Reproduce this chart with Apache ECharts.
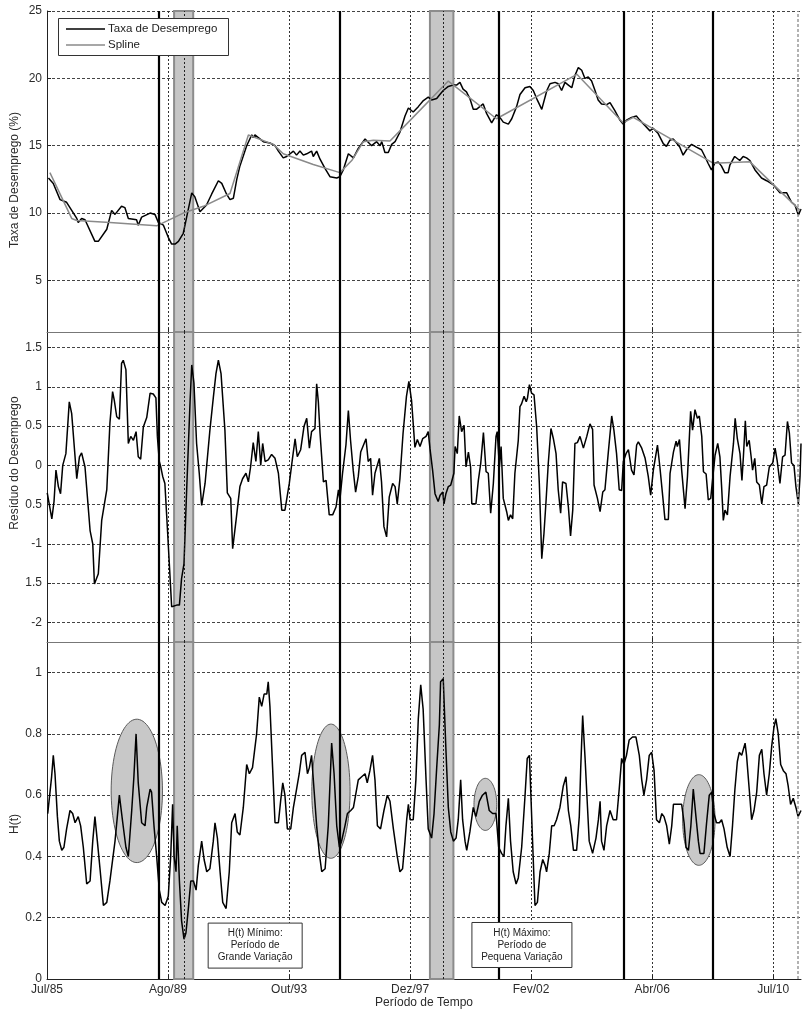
<!DOCTYPE html>
<html>
<head>
<meta charset="utf-8">
<script src="https://cdn.jsdelivr.net/npm/echarts@6/dist/echarts.min.js"></script>
<style>
    html, body { margin: 0; padding: 0; background: #fff; }
    #chart { width: 802px; height: 1012px; }
</style>
</head>
<body>
<div id="chart"></div>
<script>
// eixo do tempo: indice do mes (0 = Jul/85)
const xTickValues = [0, 50, 100, 150, 200, 250, 300];
const xTickLabels = ['Jul/85', 'Ago/89', 'Out/93', 'Dez/97', 'Fev/02', 'Abr/06', 'Jul/10'];
const taxaTicks = [5, 10, 15, 20, 25];
const residuoTicks = [-2, -1.5, -1, -0.5, 0, 0.5, 1, 1.5];
const residuoTickLabels = ['-2', '1.5', '-1', '0.5', '0', '0.5', '1', '1.5'];
const hTicks = [0, 0.2, 0.4, 0.6, 0.8, 1];

// taxa de desemprego (%)
const taxaMeses = [0.6, 2.6, 5.4, 8.1, 8.8, 12.3, 12.9, 14.3, 15.7, 19.8, 21.2, 24.7, 26.7, 28.1, 30.8, 32.2, 33.6, 37.0, 37.7, 39.1,
    42.6, 44.6, 46.0, 48.1, 50.1, 51.5, 52.9, 54.3, 56.3, 57.7, 59.8, 61.1, 63.2, 63.9, 65.9, 68.0, 70.8, 72.2, 74.2, 75.6,
    77.0, 78.4, 79.7, 82.5, 84.6, 85.2, 85.9, 87.3, 88.0, 89.4, 92.1, 94.2, 95.6, 97.6, 99.0, 101.8, 103.1, 104.5, 105.9, 107.3,
    109.3, 110.0, 111.4, 112.8, 114.9, 116.9, 119.7, 121.0, 122.4, 124.5, 126.6, 128.6, 131.4, 134.1, 136.2, 137.6, 138.3, 139.6, 141.0, 142.4,
    143.8, 145.8, 147.9, 149.3, 151.3, 153.4, 155.5, 157.5, 158.9, 161.0, 162.3, 163.7, 165.8, 167.8, 169.2, 170.6, 171.9, 173.3, 174.7, 176.1,
    177.4, 178.8, 180.2, 181.6, 183.7, 185.7, 187.1, 188.5, 190.6, 192.0, 194.0, 195.4, 197.5, 199.5, 200.9, 202.3, 204.4, 206.5, 207.8, 209.9,
    211.2, 212.6, 214.0, 215.4, 216.8, 218.1, 219.5, 220.9, 222.2, 223.6, 225.0, 226.4, 227.7, 229.1, 231.2, 232.6, 234.6, 236.7, 238.0, 239.4,
    241.5, 243.5, 244.9, 247.0, 249.1, 250.4, 252.5, 254.6, 255.9, 257.3, 258.7, 260.1, 261.4, 262.8, 264.2, 266.3, 268.3, 270.4, 271.8, 273.1,
    274.5, 275.9, 277.3, 278.6, 280.0, 281.4, 282.1, 284.1, 286.2, 287.6, 289.0, 290.4, 292.5, 295.2, 297.3, 300.1, 302.8, 305.6, 307.6, 309.0,
    310.4, 311.5];
const taxaValores = [12.6, 12.2, 11.0, 10.8, 10.9, 9.6, 9.3, 9.6, 9.5, 7.9, 7.9, 8.8, 10.2, 9.9, 10.5, 10.4, 9.6, 9.5, 9.1, 9.7,
    10.0, 9.9, 9.3, 9.1, 8.2, 7.7, 7.7, 7.9, 8.5, 9.7, 11.5, 11.2, 10.1, 10.0, 10.6, 11.4, 12.4, 12.2, 11.4, 11.0,
    11.1, 12.5, 13.5, 15.0, 15.8, 15.6, 15.8, 15.6, 15.7, 15.3, 15.2, 15.0, 14.6, 14.1, 14.2, 14.6, 14.3, 14.6, 14.3, 14.4,
    14.6, 14.2, 14.6, 14.0, 13.3, 12.7, 12.6, 12.7, 13.2, 14.4, 14.1, 14.8, 15.5, 15.0, 15.3, 15.0, 15.3, 14.5, 14.5, 15.1,
    15.3, 16.0, 17.2, 17.8, 17.5, 17.9, 18.35, 18.6, 18.4, 18.5, 18.8, 19.1, 19.4, 19.5, 19.5, 19.7, 19.2, 19.0, 18.5, 17.7,
    17.7, 17.9, 18.1, 17.4, 16.7, 17.3, 17.1, 16.75, 16.6, 17.0, 17.9, 18.8, 19.3, 19.4, 19.1, 18.5, 17.7, 19.1, 19.6, 19.7,
    19.6, 19.1, 19.7, 19.5, 19.3, 20.2, 20.8, 20.6, 20.0, 20.1, 19.8, 19.1, 18.4, 18.1, 18.05, 18.2, 17.6, 16.9, 16.6, 16.9,
    17.1, 17.2, 16.9, 16.5, 16.1, 16.3, 15.9, 15.15, 14.95, 15.4, 15.5, 15.2, 14.9, 14.3, 14.7, 15.1, 14.9, 14.7, 14.2, 13.7,
    13.2, 13.7, 13.8, 13.5, 13.0, 13.0, 13.55, 14.2, 13.9, 14.2, 14.1, 13.9, 13.2, 12.6, 12.4, 12.1, 11.5, 11.5, 10.8, 10.6,
    9.85, 10.3];

// spline da taxa
const splineMeses = [1.2, 10.2, 12.3, 26.0, 45.3, 49.4, 56.3, 64.6, 75.6, 83.2, 93.5, 97.6, 110.0, 121.0, 125.9, 130.7, 134.8, 141.7,
    145.8, 165.8, 185.7, 218.9, 238.0, 242.2, 275.2, 290.4, 311.1];
const splineValores = [13.0, 9.6, 9.45, 9.3, 9.05, 9.4, 10.0, 10.5, 11.45, 15.8, 15.1, 14.4, 13.6, 13.0, 13.9, 15.3, 15.4, 15.35,
    16.1, 19.8, 17.0, 20.3, 16.7, 17.1, 13.7, 13.8, 10.2];

// residuo do desemprego
const residuoMeses = [0.1, 2.0, 2.9, 3.7, 4.7, 5.6, 6.5, 7.8, 9.2, 10.2, 12.3, 13.4, 14.3, 15.7, 17.8, 18.9, 19.6, 21.2, 22.6, 24.7,
    26.0, 27.1, 27.8, 28.8, 29.9, 30.8, 31.5, 32.6, 33.6, 34.6, 35.7, 36.8, 37.7, 38.7, 39.8, 41.2, 42.6, 43.9, 45.0, 45.6,
    46.4, 47.0, 47.8, 48.7, 49.7, 51.5, 53.6, 54.7, 55.6, 56.6, 57.7, 59.1, 59.8, 60.7, 61.8, 62.9, 63.9, 65.3, 67.3, 68.7,
    69.8, 70.8, 71.9, 73.5, 74.5, 75.9, 76.7, 78.1, 79.7, 80.8, 82.2, 83.2, 84.1, 85.2, 86.3, 87.3, 88.3, 89.1, 90.1, 91.4,
    92.8, 94.2, 95.6, 97.0, 98.3, 100.1, 101.5, 102.5, 103.4, 104.8, 106.2, 107.3, 108.4, 109.3, 110.7, 111.4, 112.1, 112.8, 114.2, 115.3,
    116.6, 118.0, 119.4, 120.4, 121.0, 122.1, 123.5, 124.5, 125.4, 126.5, 127.5, 128.6, 129.6, 131.8, 132.7, 133.7, 134.5, 135.5, 137.3, 138.2,
    139.2, 140.3, 141.4, 142.8, 143.8, 144.7, 145.8, 147.1, 148.5, 149.5, 150.6, 152.0, 153.0, 154.1, 155.2, 156.6, 157.5, 158.2, 159.3, 160.3,
    161.6, 162.4, 163.5, 164.0, 164.8, 165.8, 166.8, 168.1, 168.6, 169.5, 170.3, 171.3, 172.3, 173.1, 174.1, 175.0, 175.5, 177.2, 178.2, 179.2,
    180.3, 181.4, 182.3, 183.3, 184.4, 185.5, 186.0, 186.9, 187.6, 188.5, 189.9, 190.6, 191.5, 192.4, 193.3, 194.7, 195.4, 196.0, 197.1, 198.0,
    198.5, 199.3, 200.2, 201.2, 202.3, 203.4, 204.4, 205.3, 206.2, 207.1, 208.2, 209.2, 210.3, 211.2, 212.2, 213.0, 214.4, 215.4, 216.3, 217.2,
    218.1, 219.1, 220.2, 221.6, 223.0, 224.3, 225.4, 226.0, 227.4, 228.5, 229.6, 230.5, 231.9, 233.3, 234.2, 235.3, 236.4, 237.4, 238.1, 239.2,
    240.2, 241.5, 242.5, 243.6, 244.3, 245.7, 247.1, 248.4, 249.4, 250.5, 252.2, 253.2, 254.4, 255.3, 256.7, 257.4, 258.8, 259.9, 260.4, 261.3,
    262.2, 263.6, 264.6, 265.9, 266.7, 267.7, 268.7, 269.5, 270.5, 271.2, 272.3, 273.2, 274.2, 275.0, 276.0, 277.1, 278.0, 278.7, 279.4, 280.1,
    281.1, 282.2, 282.9, 283.6, 284.3, 285.2, 286.3, 287.1, 287.7, 288.5, 289.1, 290.1, 290.9, 291.5, 292.4, 293.2, 294.3, 295.3, 296.2, 297.3,
    298.4, 299.8, 300.8, 301.7, 302.8, 303.9, 304.9, 305.9, 306.7, 307.6, 308.6, 309.4, 310.4, 311.1, 311.5];
const residuoValores = [-0.35, -0.68, -0.46, -0.06, -0.27, -0.36, 0.0, 0.15, 0.81, 0.66, -0.17, 0.11, 0.16, -0.02, -0.83, -1.0, -1.51, -1.38, -0.70, -0.31,
    0.54, 0.94, 0.83, 0.62, 0.59, 1.30, 1.34, 1.22, 0.28, 0.37, 0.32, 0.43, 0.11, 0.08, 0.49, 0.61, 0.92, 0.91, 0.86, 0.37,
    0.05, -0.02, -0.14, -0.23, -0.78, -1.80, -1.78, -1.78, -1.44, -1.25, -0.31, 0.81, 1.28, 1.05, 0.28, -0.10, -0.51, -0.23, 0.45, 0.86,
    1.17, 1.34, 1.17, 0.45, -0.35, -0.42, -1.06, -0.70, -0.27, -0.17, -0.10, -0.21, -0.02, 0.29, 0.05, 0.43, 0.0, 0.28, 0.05, 0.07,
    0.14, 0.09, -0.10, -0.57, -0.57, -0.23, 0.11, 0.34, 0.11, 0.20, 0.50, 0.60, 0.22, 0.43, 0.47, 1.04, 0.81, 0.41, -0.21, -0.19,
    -0.63, -0.63, -0.53, -0.31, -0.44, -0.10, 0.26, 0.70, 0.32, -0.06, -0.34, -0.14, 0.17, 0.34, 0.05, 0.09, -0.38, -0.10, 0.09, -0.21,
    -0.78, -0.91, -0.40, -0.23, -0.27, -0.49, -0.17, 0.41, 0.88, 1.07, 0.83, 0.23, 0.33, 0.24, 0.34, 0.37, 0.43, 0.22, -0.06, -0.36,
    -0.46, -0.38, -0.34, -0.49, -0.36, -0.27, -0.25, -0.10, 0.24, 0.15, 0.63, 0.43, 0.51, -0.02, 0.17, -0.02, -0.49, -0.49, -0.19, 0.03,
    0.42, -0.08, -0.10, -0.61, -0.23, 0.37, 0.43, -0.02, 0.24, -0.42, -0.59, -0.70, -0.63, -0.68, -0.10, 0.32, 0.75, 0.78, 0.88, 0.81,
    0.86, 1.03, 0.92, 0.90, 0.49, -0.23, -1.19, -0.87, -0.44, 0.03, 0.47, 0.34, 0.15, -0.31, -0.61, -0.21, -0.23, -0.53, -0.90, -0.57,
    0.28, 0.29, 0.37, 0.22, 0.37, 0.53, 0.46, -0.25, -0.42, -0.59, -0.34, -0.31, 0.17, 0.63, 0.45, 0.15, -0.31, -0.32, 0.05, 0.15,
    0.20, -0.06, -0.12, 0.26, 0.30, 0.22, 0.09, -0.14, -0.38, -0.06, 0.26, -0.02, -0.40, -0.69, -0.69, -0.10, 0.17, 0.31, 0.24, 0.33,
    -0.06, -0.55, -0.14, 0.69, 0.45, 0.71, 0.60, 0.63, 0.37, -0.08, -0.11, -0.44, -0.42, -0.17, 0.13, 0.28, 0.11, -0.27, -0.70, -0.57,
    -0.63, -0.14, 0.07, 0.28, 0.60, 0.34, 0.15, -0.19, 0.11, 0.57, 0.24, 0.32, 0.11, -0.06, 0.09, -0.21, -0.25, -0.49, -0.27, -0.25,
    -0.02, 0.03, 0.22, 0.05, -0.23, 0.11, 0.13, 0.56, 0.41, 0.03, 0.0, -0.27, -0.49, -0.14, 0.28];

// H(t)
const hMeses = [0.3, 1.0, 1.9, 2.6, 3.3, 4.3, 5.1, 6.1, 7.0, 8.1, 9.5, 10.6, 11.6, 12.9, 13.9, 15.0, 16.4, 17.8, 18.9, 19.8,
    20.8, 21.9, 23.3, 24.7, 26.0, 28.1, 29.9, 31.3, 32.6, 33.6, 35.0, 35.9, 36.8, 37.7, 39.1, 40.5, 41.2, 42.6, 43.2, 44.2,
    45.3, 46.4, 47.4, 48.8, 50.1, 51.1, 51.9, 52.5, 53.3, 53.8, 54.7, 55.6, 56.6, 57.4, 58.4, 59.4, 60.5, 61.6, 62.5, 63.9,
    64.9, 66.0, 67.3, 68.7, 69.4, 70.4, 71.5, 72.6, 74.0, 75.3, 76.3, 77.7, 78.6, 79.7, 81.1, 82.5, 83.6, 84.9, 86.6, 87.7,
    88.7, 89.7, 90.8, 91.4, 92.1, 93.2, 94.2, 95.6, 96.5, 97.4, 98.3, 99.3, 100.7, 101.8, 102.9, 104.2, 105.2, 106.6, 107.6, 108.4,
    109.3, 110.3, 111.4, 112.5, 113.5, 114.9, 116.2, 117.6, 118.6, 119.7, 120.8, 121.7, 123.1, 124.1, 125.5, 126.6, 128.6, 130.0, 131.4, 132.3,
    133.4, 134.5, 135.5, 136.5, 137.8, 139.2, 140.6, 141.7, 143.1, 144.7, 145.8, 146.9, 147.9, 148.6, 149.3, 150.0, 151.3, 152.4, 153.4, 154.4,
    155.4, 156.6, 157.5, 158.9, 159.9, 161.0, 162.1, 162.6, 163.7, 164.8, 165.8, 166.8, 167.9, 169.0, 169.9, 170.9, 171.7, 172.7, 173.4, 174.7,
    176.1, 177.2, 178.6, 179.9, 181.3, 182.7, 184.1, 185.5, 186.6, 187.8, 188.8, 189.6, 190.6, 191.5, 192.6, 193.8, 194.7, 196.1, 197.5, 198.4,
    199.3, 200.0, 200.7, 201.6, 202.6, 203.7, 204.8, 205.8, 206.4, 207.5, 208.5, 209.5, 210.5, 211.9, 213.3, 214.4, 215.4, 216.4, 217.5, 218.8,
    219.9, 220.5, 221.3, 222.3, 223.3, 224.0, 225.4, 226.8, 227.8, 228.5, 229.1, 230.1, 231.2, 232.6, 233.9, 235.3, 236.4, 237.4, 238.3, 239.4,
    240.5, 241.9, 243.3, 244.7, 245.7, 246.6, 247.7, 248.8, 249.8, 250.8, 251.8, 253.0, 254.0, 254.9, 256.0, 257.1, 258.1, 258.8, 260.1, 262.2,
    263.2, 264.0, 265.0, 266.0, 267.0, 268.1, 269.1, 269.8, 271.4, 272.5, 273.6, 274.6, 275.5, 276.6, 277.8, 278.7, 279.7, 281.0, 282.2, 283.2,
    284.2, 285.2, 286.0, 287.0, 287.7, 288.4, 289.0, 290.1, 291.1, 292.1, 293.2, 294.3, 295.3, 296.2, 297.3, 298.4, 299.4, 300.3, 301.1, 302.1,
    303.1, 304.2, 305.3, 306.2, 307.2, 308.3, 309.4, 310.3, 311.5];
const hValores = [0.54, 0.54, 0.66, 0.73, 0.67, 0.53, 0.45, 0.42, 0.43, 0.49, 0.55, 0.54, 0.51, 0.53, 0.50, 0.43, 0.31, 0.32, 0.45, 0.53,
    0.45, 0.36, 0.24, 0.25, 0.32, 0.45, 0.60, 0.51, 0.43, 0.40, 0.55, 0.66, 0.80, 0.64, 0.51, 0.50, 0.56, 0.62, 0.61, 0.50,
    0.40, 0.29, 0.25, 0.24, 0.27, 0.40, 0.57, 0.40, 0.35, 0.50, 0.32, 0.19, 0.13, 0.15, 0.23, 0.32, 0.32, 0.29, 0.37, 0.45,
    0.39, 0.35, 0.36, 0.45, 0.51, 0.46, 0.35, 0.25, 0.23, 0.35, 0.51, 0.54, 0.48, 0.47, 0.56, 0.70, 0.67, 0.69, 0.80, 0.92,
    0.89, 0.93, 0.93, 0.97, 0.89, 0.69, 0.51, 0.51, 0.58, 0.64, 0.60, 0.49, 0.49, 0.56, 0.61, 0.67, 0.73, 0.74, 0.67, 0.69,
    0.73, 0.62, 0.50, 0.41, 0.35, 0.36, 0.50, 0.77, 0.67, 0.50, 0.43, 0.45, 0.50, 0.54, 0.55, 0.56, 0.65, 0.66, 0.67, 0.64,
    0.68, 0.73, 0.65, 0.50, 0.49, 0.55, 0.60, 0.58, 0.49, 0.40, 0.35, 0.36, 0.45, 0.52, 0.57, 0.52, 0.52, 0.65, 0.85, 0.96,
    0.88, 0.65, 0.49, 0.46, 0.54, 0.69, 0.83, 0.97, 0.98, 0.75, 0.56, 0.48, 0.45, 0.46, 0.52, 0.65, 0.52, 0.45, 0.42, 0.48,
    0.56, 0.53, 0.58, 0.60, 0.61, 0.55, 0.54, 0.54, 0.43, 0.41, 0.40, 0.50, 0.59, 0.45, 0.35, 0.31, 0.33, 0.43, 0.60, 0.72,
    0.73, 0.58, 0.43, 0.24, 0.25, 0.35, 0.39, 0.37, 0.35, 0.41, 0.50, 0.50, 0.52, 0.56, 0.63, 0.66, 0.55, 0.50, 0.42, 0.42,
    0.53, 0.69, 0.86, 0.72, 0.56, 0.45, 0.41, 0.46, 0.52, 0.58, 0.45, 0.42, 0.50, 0.55, 0.52, 0.52, 0.62, 0.72, 0.70, 0.73,
    0.78, 0.79, 0.79, 0.73, 0.65, 0.60, 0.65, 0.73, 0.74, 0.68, 0.52, 0.51, 0.54, 0.53, 0.50, 0.44, 0.50, 0.57, 0.57, 0.57,
    0.51, 0.43, 0.42, 0.50, 0.62, 0.53, 0.45, 0.41, 0.41, 0.51, 0.60, 0.61, 0.54, 0.51, 0.51, 0.52, 0.49, 0.43, 0.40, 0.50,
    0.62, 0.71, 0.74, 0.73, 0.75, 0.77, 0.73, 0.62, 0.52, 0.55, 0.61, 0.73, 0.75, 0.67, 0.60, 0.67, 0.76, 0.82, 0.85, 0.80,
    0.70, 0.68, 0.67, 0.63, 0.57, 0.59, 0.56, 0.53, 0.55];

// marcacoes verticais (mes)
const linhasSolidas = [46.0, 120.8, 186.5, 238.3, 274.9];
const linhasPontilhadas = [56.6, 163.5];
const faixasInicio = [52.5, 158.2];
const faixasFim = [60.4, 167.9];
const linhaBorda = 310.3;

// elipses sobre H(t)
const elipseCentroX = [37.1, 117.3, 181.1, 269.3];
const elipseCentroY = [0.614, 0.613, 0.570, 0.519];
const elipseRaioX = [10.6, 7.9, 4.7, 6.7];
const elipseRaioY = [0.234, 0.219, 0.085, 0.148];

// caixas de texto
const notaTextos = ['H(t) Mínimo:\nPeríodo de\nGrande Variação', 'H(t) Máximo:\nPeríodo de\nPequena Variação'];
const notaMes = [86.0, 196.2];
const notaH = [0.109, 0.111];
const notaLargura = [94, 100];

// legenda
const legendaNomes = ['Taxa de Desemprego', 'Spline'];
const legendaCores = ['#000', '#8a8a8a'];

const fonte = '"Liberation Sans", Arial, sans-serif';
const corTexto = '#2b2b2b';

function pares(xs, ys) {
    return xs.map((x, i) => [x, ys[i]]);
}

const grids = [
    { left: 47, right: 1, top: 11, height: 321 },
    { left: 47, right: 1, top: 332, height: 310 },
    { left: 47, right: 1, top: 642, height: 337 }
];

function eixoX(i) {
    return {
        type: 'value',
        gridIndex: i,
        min: 0,
        max: 311.5,
        axisLine: { show: true, onZero: false, lineStyle: { color: i === 2 ? '#222' : '#777', width: 1 } },
        axisTick: { show: true, inside: true, length: 4, customValues: xTickValues, lineStyle: { color: '#222' } },
        axisLabel: {
            show: i === 2,
            customValues: xTickValues,
            margin: 5,
            fontFamily: fonte,
            fontSize: 12,
            color: corTexto,
            formatter: (v) => xTickLabels[xTickValues.indexOf(v)] || ''
        },
        splitLine: { show: true, lineStyle: { color: '#333', type: [2, 2], width: 1 } },
        name: i === 2 ? 'Período de Tempo' : '',
        nameLocation: 'middle',
        nameGap: 17,
        nameTextStyle: { fontFamily: fonte, fontSize: 12, color: corTexto }
    };
}

function eixoY(i, min, max, ticks, formatter) {
    return {
        type: 'value',
        gridIndex: i,
        min: min,
        max: max,
        axisLine: { show: true, lineStyle: { color: '#222', width: 1 } },
        axisTick: { show: true, inside: true, length: 4, customValues: ticks, lineStyle: { color: '#222' } },
        axisLabel: {
            customValues: ticks,
            margin: 5,
            fontFamily: fonte,
            fontSize: 12,
            color: corTexto,
            formatter: formatter
        },
        splitLine: { show: true, lineStyle: { color: '#444', type: [3, 2], width: 1 } }
    };
}

// faixas cinzas (atras das curvas)
function serieFaixas(i) {
    return {
        type: 'line',
        xAxisIndex: i,
        yAxisIndex: i,
        data: [],
        z: 1,
        silent: true,
        markArea: {
            silent: true,
            itemStyle: { color: '#c6c6c6', borderColor: '#8c8c8c', borderWidth: 2 },
            data: faixasInicio.map((a, k) => [{ xAxis: a }, { xAxis: faixasFim[k] }])
        }
    };
}

// linhas verticais
function serieLinhas(i) {
    const dados = [];
    linhasSolidas.forEach((m) => dados.push({ xAxis: m, lineStyle: { color: '#000', width: 2.2, type: 'solid' } }));
    linhasPontilhadas.forEach((m) => dados.push({ xAxis: m, lineStyle: { color: '#222', width: 1, type: [2, 2] } }));
    dados.push({ xAxis: linhaBorda, lineStyle: { color: '#999', width: 1.5, type: [3, 2] } });
    return {
        type: 'line',
        xAxisIndex: i,
        yAxisIndex: i,
        data: [],
        z: 2,
        silent: true,
        markLine: {
            silent: true,
            animation: false,
            symbol: ['none', 'none'],
            label: { show: false },
            emphasis: { disabled: true },
            data: dados
        }
    };
}

function serieCurva(nome, i, dados, cor, z) {
    return {
        name: nome,
        type: 'line',
        xAxisIndex: i,
        yAxisIndex: i,
        data: dados,
        showSymbol: false,
        symbol: 'none',
        z: z,
        lineStyle: { color: cor, width: 1.5 },
        itemStyle: { color: cor },
        emphasis: { disabled: true }
    };
}

const chart = echarts.init(document.getElementById('chart'), null, { renderer: 'canvas' });

chart.setOption({
    animation: false,
    backgroundColor: '#fff',
    grid: grids,
    xAxis: [eixoX(0), eixoX(1), eixoX(2)],
    yAxis: [
        eixoY(0, 1.17, 25, taxaTicks),
        eixoY(1, -2.25, 1.7, residuoTicks, (v) => residuoTickLabels[residuoTicks.indexOf(v)]),
        eixoY(2, 0, 1.1, hTicks)
    ],
    series: [
        serieFaixas(0), serieFaixas(1), serieFaixas(2),
        serieLinhas(0), serieLinhas(1), serieLinhas(2),
        {
            type: 'custom',
            xAxisIndex: 2,
            yAxisIndex: 2,
            z: 2,
            silent: true,
            data: elipseCentroX.map((x, k) => [x, elipseCentroY[k], elipseRaioX[k], elipseRaioY[k]]),
            renderItem(params, api) {
                const cx = api.value(0), cy = api.value(1), rx = api.value(2), ry = api.value(3);
                const pts = [];
                for (let k = 0; k < 90; k++) {
                    const t = (k / 90) * Math.PI * 2;
                    pts.push(api.coord([cx + rx * Math.cos(t), cy + ry * Math.sin(t)]));
                }
                return {
                    type: 'polygon',
                    shape: { points: pts },
                    style: { fill: '#c8c8c8', stroke: '#5a5a5a', lineWidth: 1 }
                };
            }
        },
        serieCurva('Taxa de Desemprego', 0, pares(taxaMeses, taxaValores), '#000', 3),
        serieCurva('Spline', 0, pares(splineMeses, splineValores), '#8a8a8a', 4),
        serieCurva('Resíduo', 1, pares(residuoMeses, residuoValores), '#000', 3),
        serieCurva('H(t)', 2, pares(hMeses, hValores), '#000', 3)
    ]
});

// rotulos dos eixos y
const graficos = [
    { texto: 'Taxa de Desemprego (%)', y: 180 },
    { texto: 'Resíduo do Desemprego', y: 463 },
    { texto: 'H(t)', y: 824 }
].map((r) => ({
    type: 'text',
    x: 15,
    y: r.y,
    rotation: Math.PI / 2,
    style: {
        text: r.texto,
        font: '12px ' + fonte,
        fill: corTexto,
        textAlign: 'center',
        textVerticalAlign: 'middle'
    }
}));

// legenda desenhada (linha simples, sem marcador)
graficos.push({
    type: 'rect',
    shape: { x: 58.5, y: 18.5, width: 170, height: 37 },
    style: { fill: '#fff', stroke: '#333', lineWidth: 1 },
    z: 10
});
legendaNomes.forEach((nome, k) => {
    const y = 29 + k * 16;
    graficos.push({
        type: 'line',
        shape: { x1: 66, y1: y, x2: 105, y2: y },
        style: { stroke: legendaCores[k], lineWidth: 1.5 },
        z: 11
    });
    graficos.push({
        type: 'text',
        x: 108,
        y: y,
        z: 11,
        style: {
            text: nome,
            font: '11.5px ' + fonte,
            fill: '#222',
            textAlign: 'left',
            textVerticalAlign: 'middle'
        }
    });
});

// caixas de texto no painel H(t)
notaTextos.forEach((t, k) => {
    const p = chart.convertToPixel({ gridIndex: 2 }, [notaMes[k], notaH[k]]);
    const w = notaLargura[k];
    graficos.push({
        type: 'rect',
        shape: { x: p[0] - w / 2, y: p[1] - 22.5, width: w, height: 45 },
        style: { fill: '#fff', stroke: '#333', lineWidth: 1 },
        z: 10
    });
    graficos.push({
        type: 'text',
        x: p[0],
        y: p[1],
        z: 11,
        style: {
            text: t,
            font: '10px ' + fonte,
            fill: '#222',
            lineHeight: 12,
            textAlign: 'center',
            textVerticalAlign: 'middle'
        }
    });
});

chart.setOption({ graphic: graficos });
</script>
</body>
</html>
